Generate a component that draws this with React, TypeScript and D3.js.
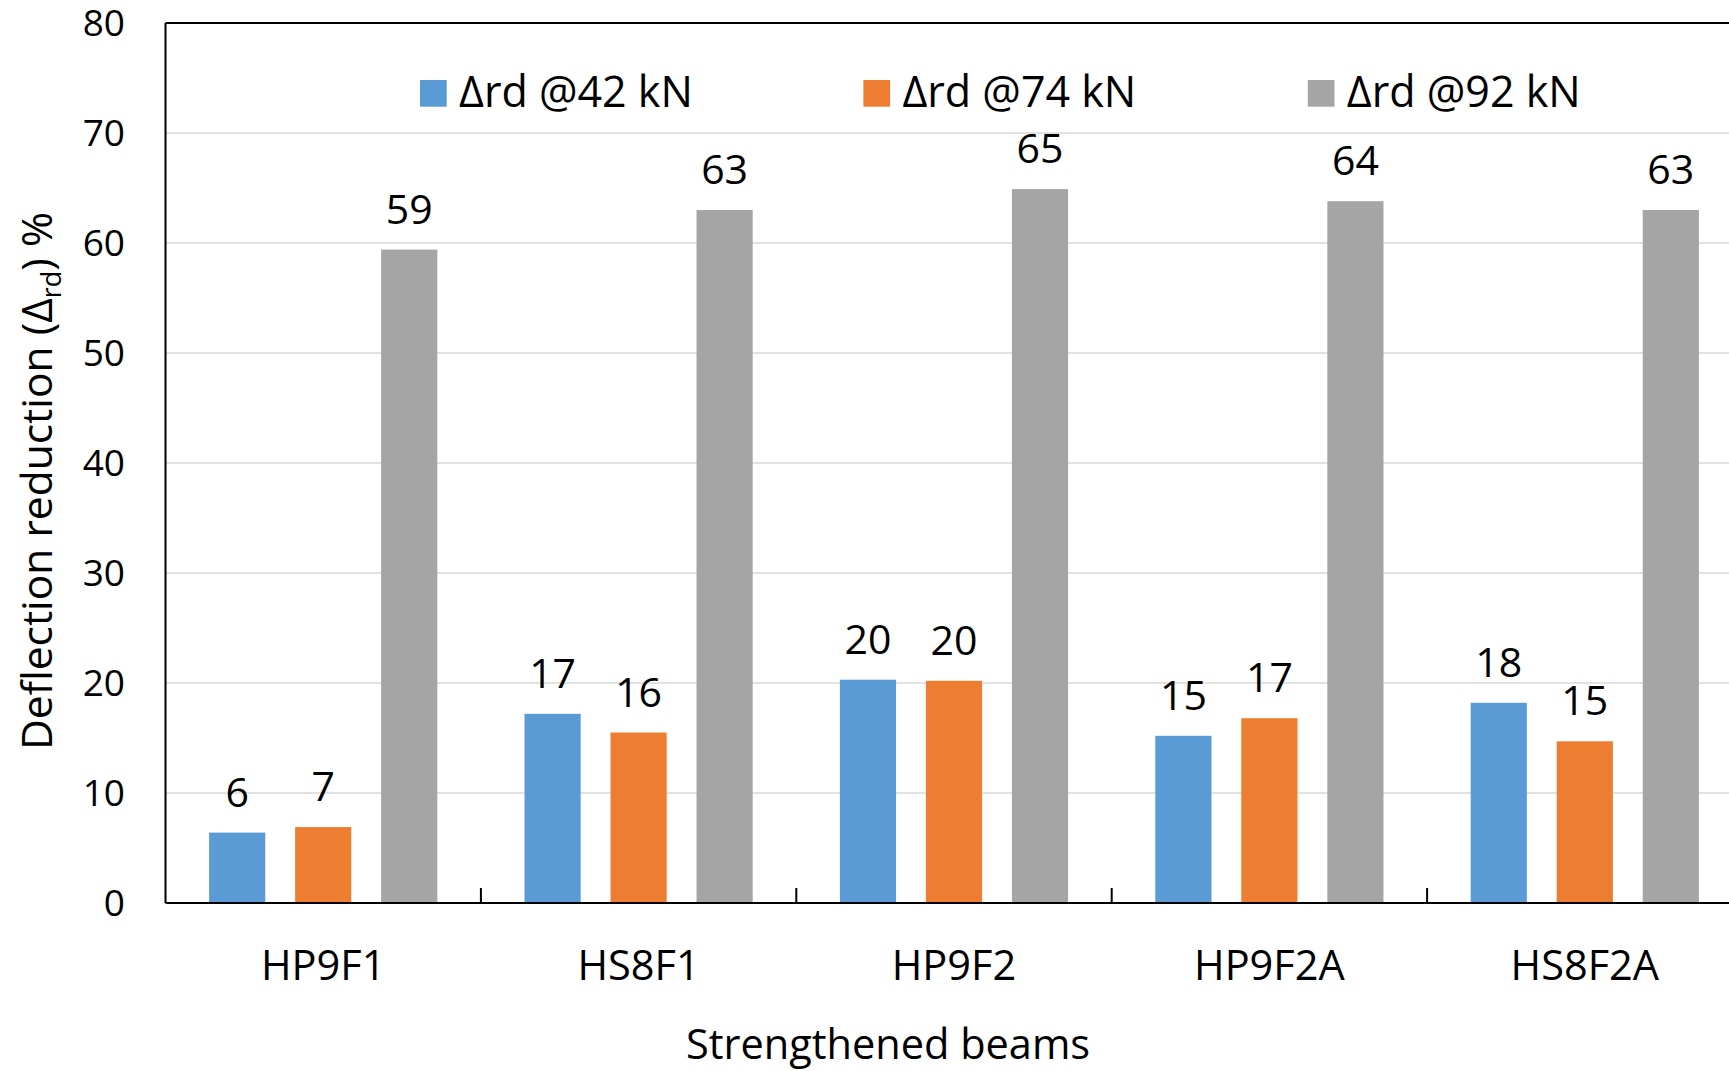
import React from "react";
import * as d3 from "d3";

const categories = ["HP9F1", "HS8F1", "HP9F2", "HP9F2A", "HS8F2A"];
const seriesNames = ["Δrd @42 kN", "Δrd @74 kN", "Δrd @92 kN"];
const values42 = [6.4, 17.2, 20.3, 15.2, 18.2];
const values74 = [6.9, 15.5, 20.2, 16.8, 14.7];
const values92 = [59.4, 63.0, 64.9, 63.8, 63.0];
const yTicks = [0, 10, 20, 30, 40, 50, 60, 70, 80];
const colors = ["#5B9BD5", "#ED7D31", "#A5A5A5"];

const W = 1729;
const H = 1071;
const FONT = "'Open Sans', Lato, sans-serif";

export default function App() {
  const left = 165.5;
  const top = 23;
  const bottom = 903;
  const right = left + 5 * 315.4;

  const y = d3.scaleLinear().domain([0, 80]).range([bottom, top]);
  const x0 = d3.scaleBand<string>().domain(categories).range([left, right]);
  const x1 = d3
    .scaleBand<string>()
    .domain(seriesNames)
    .range([0, x0.bandwidth()])
    .paddingInner(0.347)
    .paddingOuter(0.507);

  const seriesData = [values42, values74, values92];
  const legendX = [420, 863.4, 1307.8];

  return (
    <svg
      width={W}
      height={H}
      style={{ position: "absolute", left: 0, top: 0, background: "#fff" }}
      fontFamily={FONT}
    >
      <rect x={0} y={0} width={W} height={H} fill="#fff" />
      {/* gridlines */}
      {yTicks.slice(1, -1).map((t) => (
        <line
          key={t}
          x1={left}
          x2={W}
          y1={y(t)}
          y2={y(t)}
          stroke="#D9D9D9"
          strokeWidth={1.5}
        />
      ))}
      {/* bars */}
      {seriesData.map((vals, si) =>
        vals.map((v, ci) => (
          <rect
            key={`${si}-${ci}`}
            x={(x0(categories[ci]) as number) + (x1(seriesNames[si]) as number)}
            y={y(v)}
            width={x1.bandwidth()}
            height={y(0) - y(v)}
            fill={colors[si]}
          />
        ))
      )}
      {/* data labels */}
      {seriesData.map((vals, si) =>
        vals.map((v, ci) => (
          <text
            key={`l${si}-${ci}`}
            x={(x0(categories[ci]) as number) + (x1(seriesNames[si]) as number) + x1.bandwidth() / 2}
            y={y(v) - 26}
            textAnchor="middle"
            fontSize={41}
            fill="#000"
          >
            {Math.round(v)}
          </text>
        ))
      )}
      {/* frame */}
      <line x1={left} x2={W} y1={top} y2={top} stroke="#000" strokeWidth={2} />
      <line x1={left} x2={left} y1={top} y2={bottom} stroke="#000" strokeWidth={2} />
      <line x1={left} x2={W} y1={bottom} y2={bottom} stroke="#000" strokeWidth={2} />
      {/* category ticks */}
      {categories.slice(1).map((c) => (
        <line
          key={c}
          x1={x0(c) as number}
          x2={x0(c) as number}
          y1={bottom}
          y2={bottom - 15}
          stroke="#000"
          strokeWidth={2}
        />
      ))}
      {/* y tick labels */}
      {yTicks.map((t) => (
        <text key={t} x={125} y={y(t)} dy="0.36em" textAnchor="end" fontSize={37} fill="#000">
          {t}
        </text>
      ))}
      {/* category labels */}
      {categories.map((c) => (
        <text
          key={c}
          x={(x0(c) as number) + x0.bandwidth() / 2}
          y={980}
          textAnchor="middle"
          fontSize={41.5}
          fill="#000"
        >
          {c}
        </text>
      ))}
      {/* legend */}
      {seriesNames.map((s, i) => (
        <g key={s}>
          <rect x={legendX[i]} y={80} width={26.7} height={26.7} fill={colors[i]} />
          <text x={legendX[i] + 39} y={106.7} fontSize={43} fill="#000">
            {s}
          </text>
        </g>
      ))}
      {/* axis titles */}
      <text x={888} y={1059} textAnchor="middle" fontSize={41.5} fill="#000">
        Strengthened beams
      </text>
      <text
        transform={`translate(52, 481) rotate(-90)`}
        textAnchor="middle"
        fontSize={42.5}
        fill="#000"
      >
        <tspan>Deflection reduction (Δ</tspan>
        <tspan fontSize={27} dy={9}>rd</tspan>
        <tspan dy={-9}>) %</tspan>
      </text>
    </svg>
  );
}
